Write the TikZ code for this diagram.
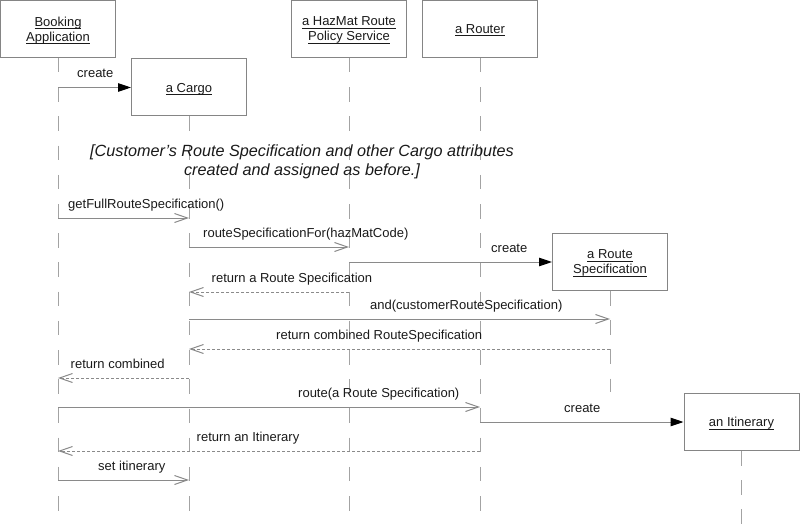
\documentclass[tikz,border=0pt]{standalone}
\usepackage{fontspec}
\setmainfont{Liberation Sans}
\usetikzlibrary{arrows.meta}
\definecolor{boxgray}{HTML}{858585}
\definecolor{linegray}{HTML}{8A8A8A}
\definecolor{lifegray}{HTML}{A3A3A3}
\definecolor{txt}{HTML}{1A1A1A}
\newsavebox{\ulxbox}
\newcommand\ulx[1]{\sbox{\ulxbox}{#1}\rlap{\usebox{\ulxbox}}\rule[-2.6pt]{\wd\ulxbox}{0.8pt}}
\begin{document}
\begin{tikzpicture}[x=1pt,y=-1pt,
  obj/.style={draw=boxgray, line width=1pt, minimum width=115pt, minimum height=57pt, inner sep=0pt, align=center, text depth=0pt, text=txt, font=\fontsize{13}{15}\selectfont},
  life/.style={draw=lifegray, line width=1pt, dash pattern=on 14.5pt off 14.7pt},
  call/.style={draw=linegray, line width=1pt, -{Straight Barb[length=13pt,width=9pt]}},
  ret/.style={draw=linegray, line width=1pt, dash pattern=on 3pt off 2pt, -{Straight Barb[length=13pt,width=9pt]}},
  make/.style={draw=linegray, line width=1pt, -{Triangle[length=13pt,width=8.5pt,color=black]}},
  lbl/.style={font=\fontsize{13}{15}\selectfont, text=txt, anchor=base west, inner sep=0pt},
  note/.style={font=\fontsize{16.2}{18.5}\selectfont\itshape, text=txt, anchor=base, inner sep=0pt}
]
\useasboundingbox (0,0) rectangle (800,524);
\fill[white] (0,0) rectangle (800,524);

% objects
\node[obj] (ba) at (58,29) {\ulx{Booking}\\\ulx{Application}};
\node[obj] (ca) at (189,87.5) {\ulx{a Cargo}};
\node[obj] (hz) at (349,29) {\ulx{a HazMat Route}\\\ulx{Policy Service}};
\node[obj] (ro) at (480,29) {\ulx{a Router}};
\node[obj] (rs) at (610,262) {\ulx{a Route}\\\ulx{Specification}};
\node[obj] (it) at (741.5,422) {\ulx{an Itinerary}};

% lifeline ends
\coordinate (bot) at (0,524);
\coordinate (rsEnd) at (610,392);
\draw[life] (ba.south) -- (ba.south |- bot);
\draw[life] (ca.south) -- (ca.south |- bot);
\draw[life] (hz.south) -- (hz.south |- bot);
\draw[life] (ro.south) -- (ro.south |- bot);
\draw[life] (rs.south) -- (rsEnd);
\draw[life] (it.south) -- (it.south |- bot);

% message anchor points
\coordinate (a1) at (58,87.5);
\coordinate (a2) at (58,218);   \coordinate (b2) at (189,218);
\coordinate (a3) at (189,247);  \coordinate (b3) at (349,247);
\coordinate (a4) at (349,262);
\coordinate (a5) at (349,292);  \coordinate (b5) at (189,292);
\coordinate (a6) at (189,319);  \coordinate (b6) at (610,319);
\coordinate (a7) at (610,349);  \coordinate (b7) at (189,349);
\coordinate (a8) at (189,378);  \coordinate (b8) at (58,378);
\coordinate (a9) at (58,407);   \coordinate (b9) at (480,407);
\coordinate (a10) at (480,422);
\coordinate (a11) at (480,451); \coordinate (b11) at (58,451);
\coordinate (a12) at (58,480);  \coordinate (b12) at (189,480);

% messages
\draw[make] (a1) -- (ca.west);
\draw[call] (a2) -- (b2);
\draw[call] (a3) -- (b3);
\draw[make] (a4) -- (rs.west);
\draw[ret]  (a5) -- (b5);
\draw[call] (a6) -- (b6);
\draw[ret]  (a7) -- (b7);
\draw[ret]  (a8) -- (b8);
\draw[call] (a9) -- (b9);
\draw[make] (a10) -- (it.west);
\draw[ret]  (a11) -- (b11);
\draw[call] (a12) -- (b12);

% labels
\node[lbl] (l1) at (77,77.5) {create};
\node[lbl] (l2) at (68,208) {getFullRouteSpecification()};
\node[lbl] (l3) at (203,237) {routeSpecificationFor(hazMatCode)};
\node[lbl] (l4) at (491,252) {create};
\node[lbl] (l5) at (211.5,282) {return a Route Specification};
\node[lbl] (l6) at (370,309) {and(customerRouteSpecification)};
\node[lbl] (l7) at (276,339) {return combined RouteSpecification};
\node[lbl] (l8) at (70.5,368) {return combined};
\node[lbl] (l9) at (298,397) {route(a Route Specification)};
\node[lbl] (l10) at (564,412) {create};
\node[lbl] (l11) at (196.5,441) {return an Itinerary};
\node[lbl] (l12) at (98,470) {set itinerary};

% note
\node[note] (n1) at (302,156.5) {[Customer’s Route Specification and other Cargo attributes};
\node[note] (n2) at (302,175) {created and assigned as before.]};
\end{tikzpicture}
\end{document}
